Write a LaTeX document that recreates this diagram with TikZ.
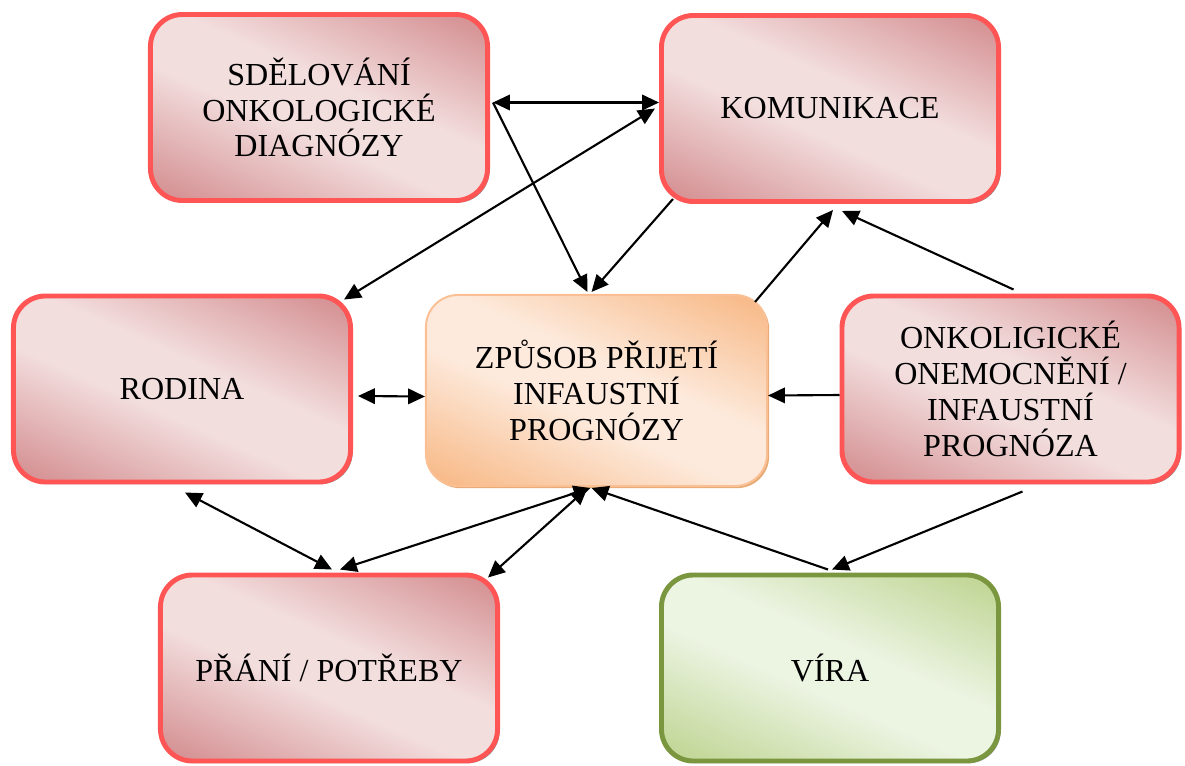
\documentclass[tikz,border=0pt]{standalone}
\usepackage{fontspec}
\setmainfont{Liberation Serif}
\usetikzlibrary{arrows.meta,calc,shadows}
\definecolor{boxred}{RGB}{255,85,85}
\definecolor{pinkL}{RGB}{243,222,222}
\definecolor{pinkD}{RGB}{214,148,150}
\definecolor{orangeL}{RGB}{253,234,220}
\definecolor{orangeD}{RGB}{248,188,140}
\definecolor{orangeB}{RGB}{250,192,148}
\definecolor{greenL}{RGB}{236,244,226}
\definecolor{greenD}{RGB}{194,215,152}
\definecolor{greenB}{RGB}{122,150,62}
\pgfdeclarehorizontalshading{pinkband}{100bp}{color(0bp)=(pinkD); color(20bp)=(pinkD); color(44bp)=(pinkL); color(56bp)=(pinkL); color(80bp)=(pinkD); color(100bp)=(pinkD)}
\pgfdeclarehorizontalshading{orangeband}{100bp}{color(0bp)=(orangeD); color(20bp)=(orangeD); color(44bp)=(orangeL); color(56bp)=(orangeL); color(80bp)=(orangeD); color(100bp)=(orangeD)}
\pgfdeclarehorizontalshading{greenband}{100bp}{color(0bp)=(greenD); color(20bp)=(greenD); color(44bp)=(greenL); color(56bp)=(greenL); color(80bp)=(greenD); color(100bp)=(greenD)}
\begin{document}
\begin{tikzpicture}[x=0.025cm,y=-0.025cm,
  every node/.style={align=center,font=\fontsize{22.8}{25.5}\selectfont,rounded corners=0.8cm,
    minimum width=8.425cm,minimum height=4.65cm,line width=3.5pt},
  topic/.style={draw=boxred,shade,shading=pinkband,shading angle=66,
    drop shadow={shadow xshift=1.5pt,shadow yshift=-1.5pt,fill=black!45,opacity=1}},
  centre/.style={draw=orangeB,line width=1.4pt,minimum width=8.525cm,minimum height=4.775cm,
    shade,shading=orangeband,shading angle=66,
    drop shadow={shadow xshift=1.5pt,shadow yshift=-1.5pt,fill=orangeD!70!brown,opacity=1}},
  faith/.style={draw=greenB,shade,shading=greenband,shading angle=66,
    drop shadow={shadow xshift=1.5pt,shadow yshift=-1.5pt,fill=black!40,opacity=1}},
  link/.style={line width=1.5pt,-{Triangle[length=12pt,width=11pt]}},
  both/.style={link,{Triangle[length=12pt,width=11pt]}-{Triangle[length=12pt,width=11pt]}}]
\useasboundingbox (0,0) rectangle (1185,765);
\node[topic] (sdel) at (319,107.5) {SDĚLOVÁNÍ\\ONKOLOGICKÉ\\DIAGNÓZY};
\node[topic] (komu) at (830,108.5) {KOMUNIKACE};
\node[topic] (rodina) at (182,389) {RODINA};
\node[centre] (zpusob) at (596.5,390.5) {ZPŮSOB PŘIJETÍ\\INFAUSTNÍ\\PROGNÓZY};
\node[topic] (onkol) at (1010.5,389) {ONKOLIGICKÉ\\ONEMOCNĚNÍ /\\INFAUSTNÍ\\PROGNÓZA};
\node[topic] (prani) at (329,668) {PŘÁNÍ / POTŘEBY};
\node[faith] (vira) at (830,668) {VÍRA};
\draw[both] ($(sdel.east)+(3,-5)$)--($(komu.west)+(0,-6)$);
\draw[link] ($(sdel.east)+(3,-5)$)--($(zpusob.north)+(-9,-2)$);
\draw[both] ($(rodina.north east)+(-9,6)$)--($(komu.west)+(-4,0)$);
\draw[link] ($(komu.south west)+(14,-5)$)--($(zpusob.north)+(-5,-2)$);
\draw[link] ($(zpusob.north east)+(-13,8)$)--($(komu.south)+(3,6)$);
\draw[link] ($(onkol.north)+(3,-4)$)--($(komu.south)+(12,7)$);
\draw[link] ($(onkol.west)+(0,6)$)--($(zpusob.east)+(0,5)$);
\draw[both] ($(rodina.east)+(5,7)$)--($(zpusob.west)+(0,6)$);
\draw[both] ($(rodina.south)+(3,8)$)--($(prani.north)+(3,-3)$);
\draw[both] ($(zpusob.south)+(-6,1)$)--($(prani.north)+(11,-3)$);
\draw[both] ($(zpusob.south)+(-9,1)$)--($(prani.north east)+(-12,5)$);
\draw[link] ($(vira.north)+(-2,-3)$)--($(zpusob.south)+(-5,1)$);
\draw[link] ($(onkol.south)+(12,7)$)--($(vira.north)+(2,-3)$);
\end{tikzpicture}
\end{document}
